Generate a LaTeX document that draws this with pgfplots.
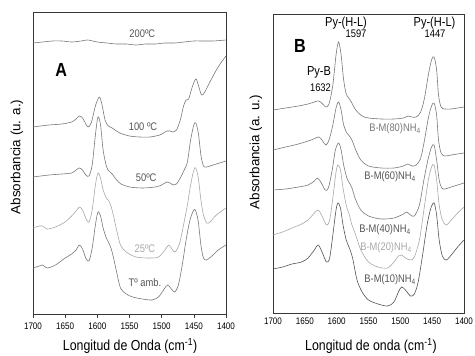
\documentclass[border=0pt]{standalone}
\usepackage{fontspec}
\setmainfont{Liberation Sans}[FakeStretch=0.85]
\newfontfamily\ylabfont{Liberation Sans}
\usepackage{pgfplots}
\pgfplotsset{compat=1.18}
\definecolor{cg}{RGB}{120,120,120}
\definecolor{cl}{RGB}{168,168,168}
\definecolor{cd}{RGB}{85,85,85}
\definecolor{fr}{RGB}{55,55,55}
\pgfplotsset{myax/.style={
  scale only axis, xmin=1400, xmax=1700, x dir=reverse,
  xtick={1400,1450,...,1700}, ytick=\empty,
  axis line style={fr, line width=0.8pt},
  tick style={fr, line width=0.6pt},
  xticklabel style={font=\fontsize{9.5}{10}\selectfont, yshift=-1.5pt},
  /pgf/number format/assume math mode=true,
  /pgf/number format/set thousands separator={},
  every axis plot/.append style={line width=0.6pt, no markers, smooth},
  every axis x label/.style={font=\fontsize{14.5}{15}\selectfont, anchor=center},
  every axis y label/.style={font=\ylabfont\fontsize{13.4}{14}\selectfont, rotate=90, anchor=center},
}}
\begin{document}
\begin{tikzpicture}
\useasboundingbox (0,0) rectangle (475pt,356pt);
% ---------------- Panel A ----------------
\begin{axis}[myax, at={(33pt,42pt)}, anchor=south west, width=193pt, height=302pt,
  ymin=-314, ymax=-12, tick align=outside, xtick pos=lower, major tick length=4pt,
  xlabel={Longitud de Onda (cm\textsuperscript{-1})},
  ylabel={Absorbancia (u. a.)},
  x label style={at={(axis description cs:0.503,-0.107)}},
  y label style={at={(axis description cs:-0.083,0.52)}}]
\addplot[cg] coordinates {(1700,-43) (1685,-42) (1670,-41) (1655,-41) (1640,-42) (1625,-41) (1615,-40) (1600,-42) (1585,-43) (1570,-44) (1555,-44) (1540,-45) (1525,-44) (1510,-44) (1495,-43) (1480,-43) (1465,-42) (1450,-41) (1435,-41) (1420,-41) (1400,-40)};
\addplot[cg] coordinates {(1700,-127) (1675,-125) (1655,-124) (1640,-122) (1633,-119) (1628,-116) (1623,-118) (1618,-124) (1614,-127) (1609,-122) (1603,-106) (1597,-97) (1593,-104) (1588,-120) (1583,-126) (1577,-128) (1565,-133) (1550,-136) (1535,-137) (1518,-137) (1503,-135) (1497,-133) (1492,-131) (1487,-131) (1483,-132) (1477,-130) (1471,-120) (1466,-106) (1462,-100) (1458,-99) (1453,-88) (1447,-79) (1443,-85) (1438,-95) (1433,-92) (1425,-82) (1415,-70) (1407,-62) (1400,-56)};
\addplot[cg] coordinates {(1700,-177) (1675,-175) (1655,-174) (1640,-173) (1633,-170) (1628,-168) (1623,-170) (1618,-175) (1613,-176) (1608,-165) (1603,-135) (1599,-117) (1595,-125) (1591,-150) (1586,-166) (1582,-171) (1577,-174) (1570,-180) (1563,-184) (1550,-187) (1530,-188) (1510,-187) (1500,-185) (1492,-182) (1487,-183) (1482,-185) (1477,-184) (1471,-178) (1465,-170) (1460,-162) (1455,-140) (1450,-125) (1447,-123) (1443,-133) (1439,-155) (1435,-166) (1430,-167) (1420,-165) (1410,-163) (1400,-161)};
\addplot[cl] coordinates {(1700,-228) (1690,-226) (1685,-226) (1678,-229) (1665,-227) (1650,-222) (1640,-216) (1633,-211) (1628,-207) (1623,-210) (1618,-218) (1613,-222) (1608,-210) (1603,-185) (1599,-173) (1595,-178) (1591,-190) (1586,-198) (1582,-201) (1577,-210) (1570,-230) (1564,-245) (1555,-252) (1540,-257) (1520,-258) (1505,-257) (1495,-250) (1489,-245) (1484,-249) (1479,-252) (1472,-243) (1466,-225) (1460,-205) (1455,-185) (1450,-170) (1447,-168) (1443,-178) (1439,-200) (1435,-215) (1430,-223) (1425,-222) (1415,-215) (1400,-208)};
\addplot[cg] coordinates {(1700,-268) (1690,-266) (1685,-265) (1678,-268) (1665,-265) (1650,-258) (1640,-254) (1633,-250) (1628,-245) (1623,-249) (1618,-258) (1613,-261) (1608,-248) (1603,-225) (1599,-212) (1595,-216) (1591,-228) (1586,-238) (1582,-243) (1577,-252) (1570,-272) (1564,-288) (1555,-294) (1545,-297) (1530,-299) (1515,-300) (1505,-297) (1497,-290) (1491,-285) (1486,-288) (1480,-292) (1474,-285) (1468,-265) (1462,-240) (1456,-220) (1450,-210) (1447,-211) (1443,-222) (1439,-245) (1435,-258) (1430,-260) (1422,-256) (1412,-250) (1400,-245)};
\node[font=\fontsize{11}{12}\selectfont, text=cd] at (axis cs:1530,-34) {200ºC};
\node[font=\fontsize{11}{12}\selectfont, text=cd] at (axis cs:1529,-127) {100 ºC};
\node[font=\fontsize{11}{12}\selectfont, text=cd] at (axis cs:1524,-178) {50ºC};
\node[font=\fontsize{11}{12}\selectfont, text=cl] at (axis cs:1526,-249) {25ºC};
\node[font=\fontsize{11}{12}\selectfont, text=cd] at (axis cs:1526,-283) {Tº amb.};
\node[font=\bfseries\fontsize{19}{20}\selectfont] at (axis cs:1656,-70) {A};
\end{axis}
% ---------------- Panel B ----------------
\begin{axis}[myax, at={(273pt,43pt)}, anchor=south west, width=191pt, height=299pt,
  ymin=-313, ymax=-14, major tick length=0pt,
  xlabel={Longitud de onda (cm\textsuperscript{-1})},
  ylabel={Absorbancia (a. u.)},
  x label style={at={(axis description cs:0.513,-0.11)}},
  y label style={at={(axis description cs:-0.089,0.538)}}]
\addplot[cg] coordinates {(1700,-110) (1680,-108) (1660,-106) (1645,-104) (1635,-102) (1628,-101) (1622,-104) (1617,-107) (1612,-104) (1606,-85) (1601,-55) (1597,-42) (1593,-55) (1589,-80) (1585,-94) (1581,-98) (1577,-102) (1570,-110) (1560,-116) (1550,-118) (1530,-119) (1510,-119) (1495,-118) (1488,-116) (1482,-117) (1475,-117) (1468,-112) (1462,-98) (1456,-75) (1451,-60) (1447,-57) (1443,-70) (1440,-95) (1436,-107) (1430,-109) (1420,-109) (1410,-108) (1400,-107)};
\addplot[cg] coordinates {(1700,-150) (1680,-147) (1660,-144) (1640,-140) (1628,-137) (1622,-141) (1617,-145) (1612,-140) (1606,-125) (1601,-108) (1597,-102) (1593,-110) (1589,-125) (1584,-133) (1580,-136) (1576,-140) (1570,-150) (1562,-160) (1550,-166) (1530,-168) (1510,-168) (1495,-166) (1488,-164) (1482,-166) (1475,-165) (1468,-158) (1462,-140) (1456,-118) (1451,-106) (1447,-103) (1443,-115) (1440,-140) (1436,-153) (1430,-156) (1420,-155) (1410,-154) (1400,-153)};
\addplot[cg] coordinates {(1700,-190) (1680,-189) (1660,-187) (1645,-185) (1635,-181) (1630,-178) (1624,-183) (1618,-190) (1613,-188) (1607,-170) (1602,-150) (1597,-143) (1593,-150) (1589,-165) (1584,-178) (1580,-183) (1576,-188) (1570,-200) (1562,-210) (1550,-216) (1530,-219) (1510,-218) (1495,-214) (1490,-212) (1484,-215) (1478,-216) (1470,-205) (1463,-180) (1456,-158) (1451,-147) (1447,-145) (1443,-160) (1439,-180) (1435,-188) (1430,-189) (1420,-187) (1410,-185) (1400,-183)};
\addplot[cl] coordinates {(1700,-235) (1685,-232) (1670,-228) (1655,-224) (1645,-220) (1635,-213) (1629,-210) (1623,-216) (1616,-225) (1611,-220) (1606,-198) (1601,-172) (1598,-165) (1594,-170) (1590,-188) (1585,-205) (1580,-215) (1576,-225) (1570,-235) (1562,-250) (1550,-262) (1535,-267) (1520,-268) (1510,-262) (1503,-256) (1498,-255) (1492,-258) (1484,-260) (1478,-257) (1470,-240) (1463,-210) (1456,-180) (1451,-167) (1447,-165) (1443,-180) (1439,-205) (1434,-220) (1428,-225) (1420,-220) (1410,-213) (1400,-207)};
\addplot[cd] coordinates {(1700,-269) (1685,-267) (1670,-264) (1655,-262) (1645,-258) (1635,-250) (1629,-245) (1623,-252) (1616,-262) (1611,-258) (1606,-235) (1601,-210) (1598,-203) (1594,-208) (1590,-225) (1585,-240) (1580,-248) (1575,-258) (1568,-280) (1560,-292) (1550,-300) (1535,-304) (1520,-306) (1510,-302) (1503,-292) (1498,-287) (1492,-290) (1484,-296) (1478,-294) (1472,-282) (1465,-255) (1458,-225) (1452,-208) (1447,-203) (1443,-215) (1439,-240) (1434,-256) (1428,-260) (1420,-255) (1410,-247) (1400,-240)};
\node[font=\fontsize{13}{14}\selectfont] at (axis cs:1585.3,-23) {Py-(H-L)};
\node[font=\fontsize{11}{12}\selectfont] at (axis cs:1569.6,-34) {1597};
\node[font=\fontsize{13}{14}\selectfont] at (axis cs:1446.3,-23) {Py-(H-L)};
\node[font=\fontsize{11}{12}\selectfont] at (axis cs:1445.5,-34) {1447};
\node[font=\bfseries\fontsize{19}{20}\selectfont] at (axis cs:1657.6,-45.5) {B};
\node[font=\fontsize{13}{14}\selectfont] at (axis cs:1627.7,-72) {Py-B};
\node[font=\fontsize{11}{12}\selectfont] at (axis cs:1625.4,-88) {1632};
\node[font=\fontsize{11}{12}\selectfont, text=cg] at (axis cs:1508.4,-129) {B-M(80)NH\textsubscript{4}};
\node[font=\fontsize{11}{12}\selectfont, text=cd] at (axis cs:1516,-177) {B-M(60)NH\textsubscript{4}};
\node[font=\fontsize{11}{12}\selectfont, text=cd] at (axis cs:1524,-230) {B-M(40)NH\textsubscript{4}};
\node[font=\fontsize{11}{12}\selectfont, text=cl] at (axis cs:1522.5,-248) {B-M(20)NH\textsubscript{4}};
\node[font=\fontsize{11}{12}\selectfont, text=cd] at (axis cs:1516,-280) {B-M(10)NH\textsubscript{4}};
\end{axis}
\end{tikzpicture}
\end{document}
